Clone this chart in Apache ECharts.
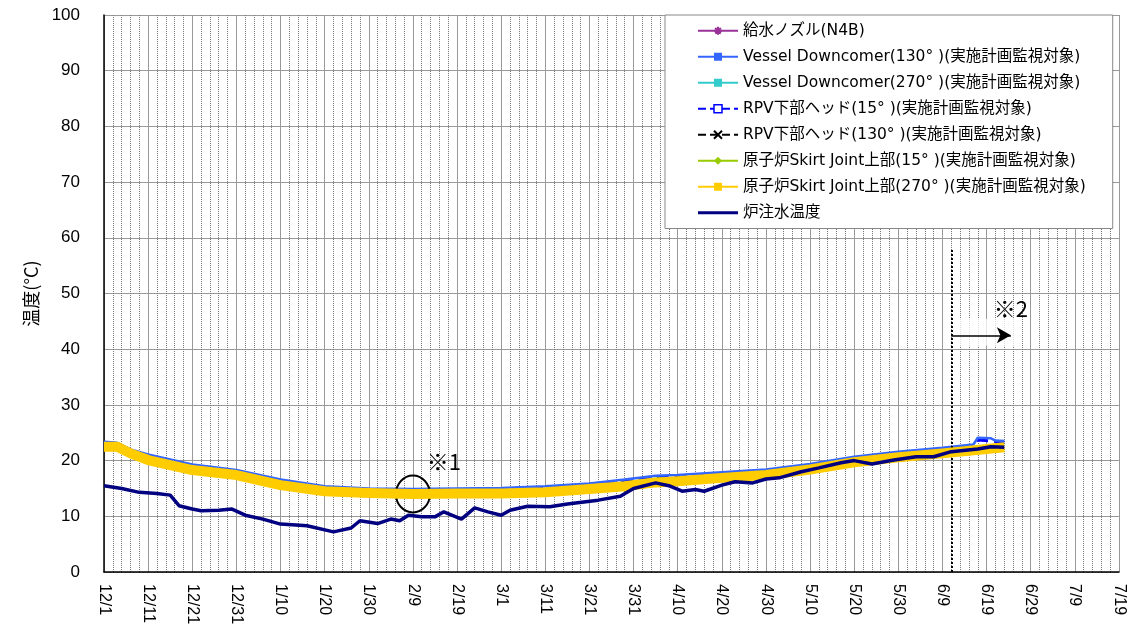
<!DOCTYPE html>
<html>
<head>
<meta charset="utf-8">
<script src="https://cdn.jsdelivr.net/npm/echarts@6/dist/echarts.min.js"></script>
<style>
  html, body { margin: 0; padding: 0; background: #fff; }
  #chart { width: 1144px; height: 636px; }
</style>
</head>
<body>
<div id="chart"></div>
<script>
// x values are days counted from 12/1
const xLabels = ['12/1', '12/11', '12/21', '12/31', '1/10', '1/20', '1/30', '2/9', '2/19', '3/1', '3/11',
  '3/21', '3/31', '4/10', '4/20', '4/30', '5/10', '5/20', '5/30', '6/9', '6/19', '6/29', '7/9', '7/19'];

const seriesNames = [
  '給水ノズル(N4B)',
  'Vessel Downcomer(130° )(実施計画監視対象)',
  'Vessel Downcomer(270° )(実施計画監視対象)',
  'RPV下部ヘッド(15° )(実施計画監視対象)',
  'RPV下部ヘッド(130° )(実施計画監視対象)',
  '原子炉Skirt Joint上部(15° )(実施計画監視対象)',
  '原子炉Skirt Joint上部(270° )(実施計画監視対象)',
  '炉注水温度'
];

const feedwaterNozzle = [];
const downcomer270 = [];
const rpvHead130 = [];

const downcomer130 = [[0, 23.4], [3, 23.2], [6, 22.0], [10, 21.1], [20, 19.3], [30, 18.3], [40, 16.6],
  [50, 15.4], [60, 15.0], [70, 14.9], [80, 15.0], [90, 15.1], [100, 15.4], [110, 15.9], [118, 16.6],
  [125, 17.3], [130, 17.4], [140, 17.9], [150, 18.4], [160, 19.4], [170, 20.7], [180, 21.6], [190, 22.3],
  [197, 22.9], [198, 24.1], [201, 24.0], [202, 23.6], [204, 23.5]];

const rpvHead15 = [[0, 23.2], [6, 21.8], [10, 20.9], [20, 19.1], [30, 18.1], [40, 16.4], [50, 15.2],
  [60, 14.8], [70, 14.7], [80, 14.8], [90, 14.9], [100, 15.2], [110, 15.7], [118, 16.4], [125, 17.1],
  [130, 17.2], [140, 17.7], [150, 18.2], [160, 19.2], [170, 20.5], [180, 21.4], [190, 22.1], [197, 22.7],
  [198, 23.7], [204, 23.3]];

const skirt15 = [[0, 22.9], [3, 22.9], [6, 21.8], [10, 20.6], [20, 18.7], [30, 17.8], [40, 16.0],
  [50, 14.9], [60, 14.6], [70, 14.4], [80, 14.5], [90, 14.5], [100, 14.8], [110, 15.4], [118, 16.0],
  [125, 16.7], [130, 16.8], [140, 17.4], [150, 17.9], [160, 18.9], [170, 20.2], [180, 21.1], [190, 21.8],
  [200, 22.6], [204, 22.9]];

const skirt270 = [[0, 22.5], [3, 22.5], [6, 21.3], [10, 20.1], [20, 18.3], [30, 17.4], [40, 15.6],
  [50, 14.5], [60, 14.2], [70, 14.0], [80, 14.1], [90, 14.1], [100, 14.3], [110, 14.9], [118, 15.4],
  [124, 16.0], [130, 16.3], [140, 16.9], [150, 17.4], [160, 18.4], [170, 19.7], [180, 20.6], [190, 21.3],
  [200, 22.1], [204, 22.4]];

const injectionTemp = [[0, 15.5], [4, 15.0], [8, 14.3], [12, 14.1], [15, 13.8], [17, 11.9], [20, 11.3],
  [22, 11.0], [26, 11.1], [29, 11.3], [32, 10.2], [36, 9.5], [40, 8.6], [46, 8.3], [52, 7.2], [56, 7.9],
  [58, 9.2], [62, 8.7], [65, 9.5], [67, 9.2], [69, 10.2], [72, 9.9], [75, 9.9], [77, 10.8], [81, 9.5],
  [84, 11.5], [87, 10.8], [90, 10.2], [92, 11.1], [96, 11.8], [101, 11.7], [105, 12.2], [112, 12.9],
  [117, 13.6], [120, 15.0], [125, 16.0], [128, 15.5], [131, 14.5], [134, 14.8], [136, 14.5], [140, 15.6],
  [143, 16.2], [147, 16.0], [150, 16.7], [153, 16.9], [158, 18.0], [162, 18.7], [167, 19.6], [170, 20.0],
  [174, 19.4], [179, 20.1], [184, 20.7], [188, 20.7], [192, 21.6], [198, 22.1], [201, 22.5], [204, 22.4]];

// annotations (data coordinates)
const boundaryDay = 192;
const boundaryTop = 58;
const arrowFrom = [192, 42.5];
const arrowTo = [205.5, 42.5];
const note1 = { text: '※1', coord: [77, 19.8] };
const note2 = { text: '※2', coord: [205.5, 47.3] };
const circleAt = [70, 14.0];

const chart = echarts.init(document.getElementById('chart'));

const jpFont = '"Noto Sans CJK JP", sans-serif';
const legendFont = '"DejaVu Sans", "Noto Sans CJK JP", sans-serif';

const textMark = (note) => ({
  coord: note.coord, symbol: 'circle', symbolSize: 1,
  itemStyle: { color: 'rgba(0,0,0,0)' },
  label: { show: true, position: 'inside', formatter: note.text, fontFamily: jpFont, fontSize: 22, color: '#000' }
});

const option = {
  animation: false,
  backgroundColor: '#fff',
  grid: { left: 104, right: 25, top: 15, bottom: 64 },
  legend: {
    orient: 'vertical',
    left: 665,
    top: 15,
    padding: [8, 27, 8, 32],
    backgroundColor: '#fff',
    borderColor: '#888',
    borderWidth: 1,
    itemWidth: 40,
    itemHeight: 10,
    itemGap: 10.5,
    textStyle: { fontFamily: legendFont, fontSize: 15.5, color: '#000' },
    data: [
      { name: seriesNames[0] },
      { name: seriesNames[1] },
      { name: seriesNames[2] },
      { name: seriesNames[3], itemStyle: { color: '#fff', borderColor: '#0000FF', borderWidth: 1.5 } },
      { name: seriesNames[4] },
      { name: seriesNames[5] },
      { name: seriesNames[6], lineStyle: { width: 2 } },
      { name: seriesNames[7], icon: 'path://M0,0M40,10M0,3.5L40,3.5L40,6.5L0,6.5Z', itemStyle: { color: '#000080' } }
    ]
  },
  xAxis: {
    type: 'value',
    min: 0,
    max: 230,
    interval: 10,
    axisLine: { lineStyle: { color: '#000', width: 1.5 } },
    axisTick: { show: false },
    axisLabel: {
      rotate: -90,
      fontFamily: 'Liberation Sans, Arial, sans-serif',
      fontSize: 16,
      color: '#000',
      margin: 12,
      formatter: v => xLabels[Math.round(v / 10)]
    },
    splitLine: { show: true, lineStyle: { color: '#999', width: 1 } },
    minorTick: { show: false, splitNumber: 5 },
    minorSplitLine: { show: true, lineStyle: { color: '#777', type: 'dotted', width: 1 } }
  },
  yAxis: {
    type: 'value',
    min: 0,
    max: 100,
    interval: 10,
    name: '温度(°C)',
    nameLocation: 'middle',
    nameGap: 64,
    nameTextStyle: { fontFamily: jpFont, fontSize: 18, color: '#000' },
    axisLine: { show: true, lineStyle: { color: '#000', width: 1.5 } },
    axisTick: { show: false },
    axisLabel: { fontFamily: 'Liberation Sans, Arial, sans-serif', fontSize: 17, color: '#000', margin: 24 },
    splitLine: { lineStyle: { color: '#999', width: 1 } }
  },
  series: [
    {
      name: seriesNames[0], type: 'line', data: feedwaterNozzle,
      symbol: 'path://M0,5L10,5M5,0L5,10M1.5,1.5L8.5,8.5M8.5,1.5L1.5,8.5', symbolSize: 9,
      itemStyle: { color: '#993399', borderColor: '#993399', borderWidth: 1.5 },
      lineStyle: { color: '#993399', width: 1.5 }
    },
    {
      name: seriesNames[1], type: 'line', data: downcomer130, z: 4,
      symbol: 'rect', symbolSize: [6, 3], showSymbol: false,
      itemStyle: { color: '#3366FF' },
      lineStyle: { color: '#3366FF', width: 2.5 }
    },
    {
      name: seriesNames[2], type: 'line', data: downcomer270,
      symbol: 'rect', symbolSize: [6, 3],
      itemStyle: { color: '#33CCCC' },
      lineStyle: { color: '#33CCCC', width: 1.5 }
    },
    {
      name: seriesNames[3], type: 'line', data: rpvHead15, z: 3,
      symbol: 'rect', symbolSize: 8, showSymbol: false,
      itemStyle: { color: '#fff', borderColor: '#0000FF', borderWidth: 1.5 },
      lineStyle: { color: '#0000FF', width: 3, type: 'dashed' }
    },
    {
      name: seriesNames[4], type: 'line', data: rpvHead130,
      symbol: 'path://M0,0L10,10M10,0L0,10', symbolSize: 8,
      itemStyle: { color: '#000', borderColor: '#000', borderWidth: 1 },
      lineStyle: { color: '#000', width: 1, type: 'dashed' }
    },
    {
      name: seriesNames[5], type: 'line', data: skirt15, z: 3,
      symbol: 'diamond', symbolSize: 9, showSymbol: false,
      itemStyle: { color: '#99CC00' },
      lineStyle: { color: '#99CC00', width: 3 }
    },
    {
      name: seriesNames[6], type: 'line', data: skirt270, z: 5,
      symbol: 'rect', symbolSize: 10, showSymbol: false,
      itemStyle: { color: '#FFCC00' },
      lineStyle: { color: '#FFCC00', width: 10, join: 'round' }
    },
    {
      name: seriesNames[7], type: 'line', data: injectionTemp, z: 6,
      symbol: 'none',
      itemStyle: { color: '#000080' },
      lineStyle: { color: '#000080', width: 3.5 },
      markLine: {
        silent: true,
        label: { show: false },
        data: [
          [{ coord: [boundaryDay, 0], symbol: 'none' }, { coord: [boundaryDay, boundaryTop], symbol: 'none',
            lineStyle: { color: '#000', type: 'dotted', width: 2 } }],
          [{ coord: arrowFrom, symbol: 'none' }, { coord: arrowTo, symbol: 'arrow', symbolSize: [12, 14],
            lineStyle: { color: '#000', type: 'solid', width: 1.5 } }]
        ],
        lineStyle: { color: '#000', type: 'solid', width: 1.5 }
      },
      markArea: {
        silent: true,
        itemStyle: { color: 'rgba(255,255,255,0.75)' },
        data: [[{ coord: [192.3, 40.6] }, { coord: [207.5, 45.4] }]]
      },
      markPoint: {
        silent: true,
        data: [
          { coord: circleAt, symbol: 'circle', symbolSize: [34, 37],
            itemStyle: { color: 'rgba(0,0,0,0)', borderColor: '#000', borderWidth: 2 }, label: { show: false } },
          textMark(note1),
          textMark(note2)
        ]
      }
    }
  ]
};

chart.setOption(option);
</script>
</body>
</html>
